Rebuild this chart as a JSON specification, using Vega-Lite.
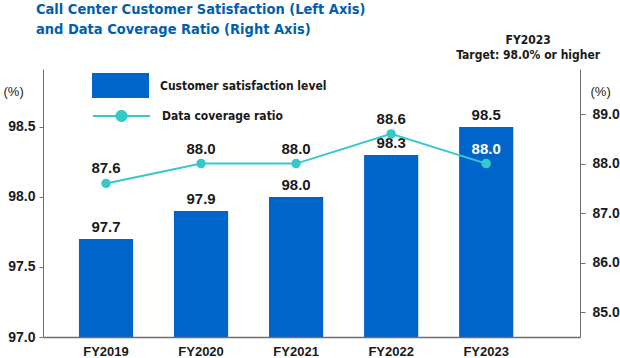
{
  "$schema": "https://vega.github.io/schema/vega-lite/v6.json",
  "width": 537,
  "height": 268,
  "autosize": {"type": "none"},
  "padding": {"left": 43, "top": 69, "right": 40, "bottom": 21},
  "background": "white",
  "title": {
    "text": ["Call Center Customer Satisfaction (Left Axis)", "and Data Coverage Ratio (Right Axis)"],
    "anchor": "start",
    "frame": "group",
    "dx": -7,
    "offset": 32,
    "dy": 35,
    "fontSize": 14.5,
    "lineHeight": 20,
    "font": "DejaVu Sans Condensed, Roboto, sans-serif",
    "fontWeight": "bold",
    "color": "#0060b0"
  },
  "config": {
    "view": {"stroke": null},
    "font": "Liberation Sans",
    "axis": {"grid": false, "domainColor": "#6e6e6e", "tickColor": "#6e6e6e", "labelColor": "#1a1a1a", "labelFontWeight": "bold", "labelFontSize": 14, "labelFont": "Liberation Sans"}
  },
  "data": {
    "values": [
      {"year": "FY2019", "satisfaction": 97.7, "coverage": 87.6},
      {"year": "FY2020", "satisfaction": 97.9, "coverage": 88.0},
      {"year": "FY2021", "satisfaction": 98.0, "coverage": 88.0},
      {"year": "FY2022", "satisfaction": 98.3, "coverage": 88.6},
      {"year": "FY2023", "satisfaction": 98.5, "coverage": 88.0}
    ]
  },
  "encoding": {
    "x": {
      "field": "year",
      "type": "nominal",
      "sort": null,
      "scale": {"paddingInner": 0.43, "paddingOuter": 0.54, "align": 0.35},
      "axis": {"title": null, "labelAngle": 0, "ticks": false, "labelPadding": 8, "labelFontSize": 13, "domainWidth": 1.5, "zindex": 1}
    }
  },
  "layer": [
    {
      "encoding": {
        "y": {
          "field": "satisfaction",
          "type": "quantitative",
          "scale": {"domain": [97, 98.914], "zero": false, "nice": false},
          "axis": {
            "orient": "left",
            "values": [97, 97.5, 98, 98.5],
            "format": ".1f",
            "tickSize": 4,
            "labelPadding": 4,
            "title": "(%)",
            "titleAngle": 0,
            "titleX": -40,
            "titleY": 22,
            "titleAlign": "left",
            "titleBaseline": "middle",
            "titleFontSize": 13,
            "titleFontWeight": 500,
            "titleColor": "#1a1a1a"
          }
        }
      },
      "layer": [
        {
          "mark": {"type": "bar"},
          "encoding": {
            "y2": {"datum": 97},
            "color": {
              "datum": "Customer satisfaction level",
              "scale": {"range": ["#0065cb"]},
              "legend": {
                "title": null,
                "orient": "none",
                "legendX": 49,
                "legendY": -12,
                "padding": 0,
                "symbolType": "M-1,-0.44H1V0.44H-1Z",
                "symbolSize": 3249,
                "symbolStrokeWidth": 0,
                "labelFontSize": 12,
                "labelLimit": 300,
                "labelFont": "DejaVu Sans Condensed, Roboto, sans-serif",
                "labelFontWeight": "bold",
                "labelColor": "#1a1a1a",
                "labelOffset": 11
              }
            }
          }
        },
        {
          "mark": {"type": "text", "baseline": "alphabetic", "dy": -7, "fontSize": 15, "fontWeight": "bold", "color": "#1a1a1a"},
          "encoding": {"text": {"field": "satisfaction", "type": "quantitative", "format": ".1f"}}
        }
      ]
    },
    {
      "encoding": {
        "y": {
          "field": "coverage",
          "type": "quantitative",
          "scale": {"domain": [84.5, 89.91], "zero": false, "nice": false},
          "axis": {
            "orient": "right",
            "values": [85, 86, 87, 88, 89],
            "format": ".1f",
            "tickSize": 5,
            "labelPadding": 7,
            "title": "(%)",
            "titleAngle": 0,
            "titleX": 10,
            "titleY": 22,
            "titleAlign": "left",
            "titleBaseline": "middle",
            "titleFontSize": 13,
            "titleFontWeight": 500,
            "titleColor": "#1a1a1a"
          }
        }
      },
      "layer": [
        {
          "mark": {"type": "line", "strokeWidth": 2},
          "encoding": {
            "stroke": {
              "datum": "Data coverage ratio",
              "scale": {"range": ["#36c9c9"]},
              "legend": {
                "title": null,
                "orient": "none",
                "legendX": 49,
                "legendY": 17.5,
                "padding": 0,
                "symbolType": "M-1,0H1M0.18,0A0.18,0.18,0,1,1,-0.18,0A0.18,0.18,0,1,1,0.18,0Z",
                "symbolSize": 3249,
                "symbolStrokeWidth": 2,
                "symbolFillColor": "#36c9c9",
                "labelFontSize": 12,
                "labelLimit": 300,
                "labelFont": "DejaVu Sans Condensed, Roboto, sans-serif",
                "labelFontWeight": "bold",
                "labelColor": "#1a1a1a",
                "labelOffset": 11
              }
            }
          }
        },
        {
          "mark": {"type": "point", "filled": true, "size": 90, "color": "#36c9c9", "opacity": 1}
        },
        {
          "mark": {"type": "text", "baseline": "alphabetic", "dy": -10, "fontSize": 15, "fontWeight": "bold"},
          "encoding": {
            "text": {"field": "coverage", "type": "quantitative", "format": ".1f"},
            "color": {"condition": {"test": "datum.year === 'FY2023'", "value": "white"}, "value": "#1a1a1a"}
          }
        }
      ]
    },
    {
      "data": {"values": [{"year": "FY2023", "note": ["FY2023", "Target: 98.0% or higher"]}]},
      "mark": {"type": "text", "align": "center", "baseline": "alphabetic", "dx": 42, "fontSize": 12, "fontWeight": "bold", "lineHeight": 15, "font": "DejaVu Sans Condensed, Roboto, sans-serif", "color": "#1a1a1a"},
      "encoding": {
        "text": {"field": "note"},
        "y": {"value": -25}
      }
    }
  ],
  "resolve": {"scale": {"y": "independent"}}
}
